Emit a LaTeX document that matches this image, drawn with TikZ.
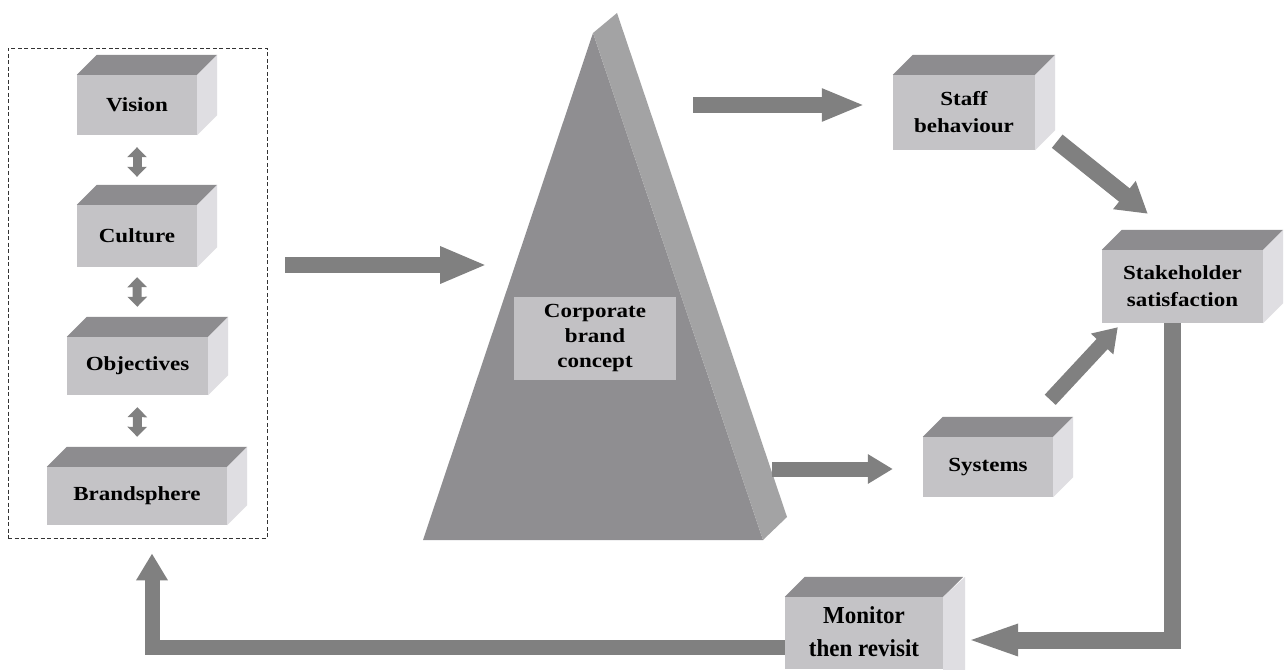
\documentclass[tikz,border=0pt]{standalone}
\usepackage{fontspec}
\usepackage{graphicx}
\setmainfont{Liberation Serif}[FakeStretch=1.15]
\usetikzlibrary{arrows.meta}

\definecolor{boxfront}{HTML}{C4C3C6}
\definecolor{boxtop}{HTML}{8D8C8F}
\definecolor{boxside}{HTML}{DFDEE2}
\definecolor{pyrfront}{HTML}{8F8E91}
\definecolor{pyrside}{HTML}{A3A3A4}
\definecolor{conceptfill}{HTML}{C2C1C4}
\definecolor{arrowgrey}{HTML}{808080}

% 3-D box: front face is the named node, top and side faces are added behind it
% #1 name, #2 x1, #3 y1, #4 x2, #5 y2, #6 text
\newcommand\drawcube[6]{%
  \node[face, minimum width={(#4)-(#2)}, minimum height={(#5)-(#3)}]
    (#1) at ({((#2)+(#4))/2},{((#3)+(#5))/2}) {#6};
  \fill[boxtop] (#1.north west) -- ++(20,-20)
    -- ([shift={(20,-20)}]#1.north east) -- (#1.north east) -- cycle;
  \fill[boxside] (#1.north east) -- ++(20,-20)
    -- ([shift={(20,-20)}]#1.south east) -- (#1.south east) -- cycle;
}

\begin{document}
\begin{tikzpicture}[x=1pt,y=-1pt,
  face/.style={fill=boxfront, inner sep=0pt, align=center, text=black,
    font=\bfseries\fontsize{20}{27}\selectfont},
  boxtop/.style={fill=boxtop},
  boxside/.style={fill=boxside},
  blk/.style n args={3}{draw=arrowgrey, line width=#1, line join=miter,
    -{Triangle[width=#2,length=#3]}},
  dbl/.style={draw=arrowgrey, line width=9pt,
    {Triangle[width=19pt,length=10pt]}-{Triangle[width=19pt,length=10pt]}}]

\fill[white] (0,0) rectangle (1284,669);
\useasboundingbox (0,0) rectangle (1284,669);
\clip (0,0) rectangle (1284,669);

% dashed frame around the left column
\node[draw=black!80, dash pattern=on 4pt off 2.5pt, line width=0.9pt,
  minimum width=259pt, minimum height=490pt, inner sep=0pt]
  (frame) at (137.5,293) {};

% left column
\drawcube{vision}{77}{75}{197}{135}{Vision}
\drawcube{culture}{77}{205}{197}{267}{Culture}
\drawcube{objectives}{67}{337}{208}{395}{Objectives}
\drawcube{brandsphere}{47}{467}{227}{525}{Brandsphere}

\draw[dbl, shorten <=12pt, shorten >=28pt] (vision.south) -- (culture.north);
\draw[dbl, shorten <=10pt, shorten >=30pt] (culture.south) -- (objectives.north);
\draw[dbl, shorten <=12pt, shorten >=30pt] (objectives.south) -- (brandsphere.north);

% pyramid
\coordinate (pA) at (593,33);
\coordinate (pB) at (423,540);
\coordinate (pC) at (763,540);
\coordinate (pA2) at (617,13);
\coordinate (pC2) at (787,517);
\fill[pyrfront] (pB) -- (pA) -- (pC) -- cycle;
\fill[pyrside] (pA) -- (pA2) -- (pC2) -- (pC) -- cycle;
\node[fill=conceptfill, minimum width=162pt, minimum height=83pt, inner sep=0pt,
  align=center, font=\bfseries\fontsize{20}{25}\selectfont]
  (concept) at (595,338.5) {Corporate\\brand\\concept};
\coordinate (pyrL) at (487,265);
\coordinate (pyrT) at (693,105);
\coordinate (pyrR) at (772,469);

% right side
\drawcube{staff}{893}{75}{1035}{150}{Staff\\behaviour}
\drawcube{stake}{1102}{250}{1263}{323}{Stakeholder\\satisfaction}
\drawcube{systems}{923}{437}{1053}{497}{Systems}
\node[face, minimum width=158pt, minimum height=72pt]
  (monitor) at (864,633)
  {\scalebox{1}[1.22]{\begin{tabular}{@{}c@{}}Monitor\\then revisit\end{tabular}}};
\fill[boxtop] (monitor.north west) -- ++(20,-20)
  -- ([shift={(20,-20)}]monitor.north east) -- (monitor.north east) -- cycle;
\fill[boxside] (monitor.north east) -- ++(22,-20) -- ++(0,120) -- ++(-22,0) -- cycle;

% flow arrows
\draw[blk={16pt}{34pt}{47pt}, shorten <=18pt] (frame.east |- pyrL) -- (pyrL);
\draw[blk={16pt}{30pt}{43pt}, shorten >=28pt] (pyrT) -- (pyrT -| staff.west);
\draw[blk={15pt}{28pt}{25pt}, shorten >=30pt] (pyrR) -- (pyrR -| systems.west);
\draw[blk={17pt}{34pt}{30pt}]
  ([shift={(22,-9)}]staff.south east) -- ([shift={(46,-36)}]stake.north west);
\draw[blk={15pt}{29pt}{23pt}]
  ([shift={(-3,-37)}]systems.north east) -- ([shift={(16,4)}]stake.south west);
\draw[blk={17pt}{28pt}{53pt}]
  ([xshift=-10pt]stake.south) |- ([shift={(22,7)}]monitor.east);
\draw[blk={15pt}{30pt}{27pt}]
  ([shift={(0,14)}]monitor.west) -| ([shift={(14.5,15)}]frame.south);

\end{tikzpicture}
\end{document}
